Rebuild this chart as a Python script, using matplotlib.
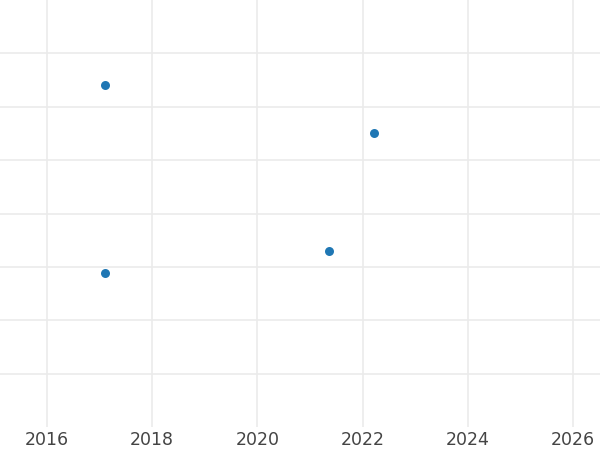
import numpy as np
import matplotlib
matplotlib.use("Agg")
import matplotlib.pyplot as plt

# data
years = [2017.10, 2022.22, 2021.36, 2017.10]
values = [6.40, 5.51, 3.30, 2.88]
xticks = [2016, 2018, 2020, 2022, 2024, 2026]
yticks = [1, 2, 3, 4, 5, 6, 7]

fig = plt.figure(figsize=(6, 4.5), dpi=100)
ax = fig.add_axes([0, 1 - 427 / 450, 1, 427 / 450])

ax.scatter(years, values, s=42, color="#1f77b4", zorder=3, linewidths=0)

ax.set_xlim(2015.107, 2026.51)
ax.set_ylim(0, 8)
ax.set_xticks(xticks)
ax.set_xticklabels([str(t) for t in xticks])
ax.set_yticks(yticks)
ax.set_yticklabels([])

ax.grid(True, color="#ebebeb", linewidth=1.2)
ax.set_axisbelow(True)
for s in ax.spines.values():
    s.set_visible(False)
ax.tick_params(axis="both", length=0)
ax.tick_params(axis="x", labelsize=12.5, labelcolor="#444444", pad=3)

fig.savefig("out.png", dpi=100)
